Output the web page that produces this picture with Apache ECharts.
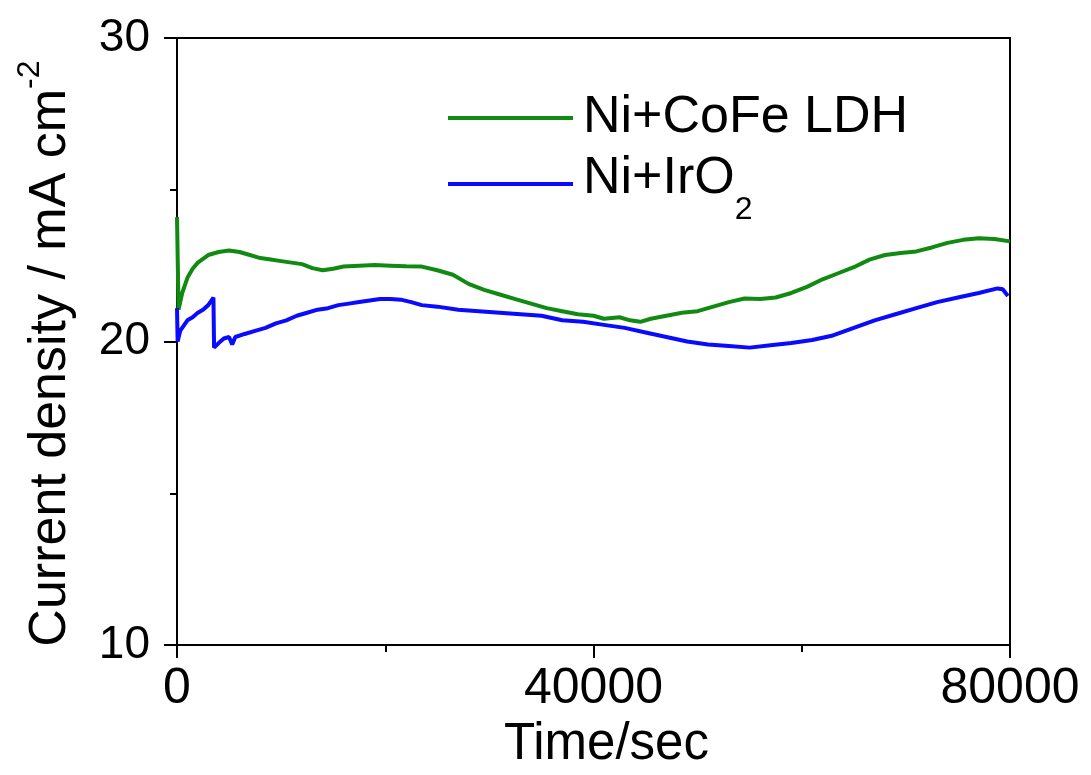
<!DOCTYPE html>
<html>
<head>
<meta charset="utf-8">
<script src="https://cdn.jsdelivr.net/npm/echarts@6/dist/echarts.min.js"></script>
<style>
  html, body { margin: 0; padding: 0; background: #fff; }
  #chart { width: 1091px; height: 775px; }
</style>
</head>
<body>
<div id="chart"></div>
<script>
// Chronoamperometry: current density vs time for two anodes
const ldhTime = [0, 150, 500, 1000, 1500, 2000, 3000, 4000, 5000, 6000, 7000, 8000, 9000, 10000,
  11000, 12000, 13000, 14000, 15000, 16000, 17500, 19000, 20500, 22000, 23500, 25000, 26500,
  28000, 29500, 31000, 32500, 34000, 35500, 37000, 38500, 40000, 41000, 42500, 43500, 44500,
  45500, 47000, 48500, 50000, 51500, 53000, 54500, 56000, 57500, 59000, 60500, 62000, 63500,
  65000, 66500, 68000, 69500, 71000, 72500, 74000, 75500, 77000, 78500, 80000];
const ldhCurrent = [24.1, 21.05, 21.6, 22.1, 22.4, 22.6, 22.85, 22.95, 23.0, 22.95, 22.85, 22.75,
  22.7, 22.65, 22.6, 22.55, 22.42, 22.35, 22.4, 22.47, 22.5, 22.52, 22.5, 22.48, 22.47, 22.35,
  22.2, 21.9, 21.7, 21.55, 21.4, 21.25, 21.1, 21.0, 20.9, 20.85, 20.75, 20.8, 20.7, 20.65,
  20.75, 20.85, 20.95, 21.0, 21.15, 21.3, 21.42, 21.4, 21.45, 21.6, 21.8, 22.05, 22.25,
  22.45, 22.7, 22.85, 22.92, 22.97, 23.1, 23.25, 23.35, 23.4, 23.38, 23.3];

const iroTime = [0, 60, 300, 1000, 1500, 2000, 2500, 3000, 3500, 3560, 4000, 4500, 5000, 5300,
  5600, 6500, 7500, 8500, 9500, 10500, 11500, 12500, 13500, 14500, 15500, 16500, 17500, 18500,
  19500, 20500, 21500, 22500, 23500, 25000, 27000, 29000, 31000, 33000, 35000, 37000, 39000,
  41000, 43000, 45000, 47000, 49000, 51000, 53000, 55000, 57000, 59000, 61000, 63000, 65000,
  67000, 69000, 71000, 73000, 75000, 77000, 78800, 79300, 79800];
const iroCurrent = [21.1, 20.0, 20.35, 20.7, 20.8, 20.95, 21.05, 21.2, 21.45, 19.8, 19.95, 20.1,
  20.15, 19.9, 20.15, 20.25, 20.35, 20.45, 20.6, 20.7, 20.85, 20.95, 21.05, 21.1, 21.2, 21.25,
  21.3, 21.35, 21.4, 21.4, 21.38, 21.3, 21.2, 21.15, 21.05, 21.0, 20.95, 20.9, 20.85, 20.7,
  20.65, 20.55, 20.45, 20.3, 20.15, 20.0, 19.9, 19.85, 19.8, 19.88, 19.95, 20.05, 20.2, 20.45,
  20.7, 20.9, 21.1, 21.3, 21.45, 21.6, 21.75, 21.72, 21.5];

const seriesNames = ['Ni+CoFe LDH', 'Ni+IrO2'];
const xTicks = [0, 40000, 80000];
const yTicks = [10, 20, 30];

const FONT = '"Liberation Sans", Arial, Helvetica, sans-serif';

function pairs(xs, ys) {
  return xs.map((x, i) => [x, ys[i]]);
}

// shared look of a one-entry legend box
function legendBox(name, top) {
  return {
    orient: 'vertical',
    left: 448,
    top: top,
    padding: 0,
    itemWidth: 125,
    itemHeight: 4,
    icon: 'rect',
    data: [name],
    formatter: function (n) {
      return n === 'Ni+IrO2' ? '{m|Ni+IrO}{sub|2}' : '{n|' + n + '}';
    },
    textStyle: {
      fontFamily: FONT,
      fontSize: 52,
      color: '#000',
      rich: {
        n: { fontFamily: FONT, fontSize: 52, lineHeight: 52, color: '#000', padding: [0, 0, 0, 5] },
        m: { fontFamily: FONT, fontSize: 52, lineHeight: 52, color: '#000', padding: [0, 0, 11, 5] },
        sub: { fontFamily: FONT, fontSize: 32, lineHeight: 32, color: '#000', padding: [52, 0, 0, 0] }
      }
    }
  };
}

const chart = echarts.init(document.getElementById('chart'), null, { renderer: 'canvas' });

chart.setOption({
  backgroundColor: '#ffffff',
  animation: false,
  grid: {
    left: 177, right: 81, top: 38, bottom: 128,
    show: true, borderColor: '#000', borderWidth: 2, backgroundColor: 'transparent'
  },
  legend: [legendBox(seriesNames[0], 92), legendBox(seriesNames[1], 142)],
  xAxis: {
    type: 'value',
    min: xTicks[0],
    max: xTicks[xTicks.length - 1],
    interval: xTicks[1] - xTicks[0],
    name: 'Time/sec',
    nameLocation: 'middle',
    nameGap: 72,
    nameTextStyle: { fontFamily: FONT, fontSize: 51, lineHeight: 51, color: '#000', padding: [0, 0, 0, 26] },
    axisLine: { show: true, onZero: false, lineStyle: { color: '#000', width: 2 } },
    axisTick: { show: true, inside: false, length: 13, lineStyle: { color: '#000', width: 2 } },
    minorTick: { show: true, splitNumber: 2, length: 7, lineStyle: { color: '#000', width: 2 } },
    axisLabel: {
      fontFamily: FONT, fontSize: 50, lineHeight: 50, color: '#000', margin: 19,
      formatter: function (v) { return String(v); }
    },
    splitLine: { show: false }
  },
  yAxis: {
    type: 'value',
    min: yTicks[0],
    max: yTicks[yTicks.length - 1],
    interval: yTicks[1] - yTicks[0],
    name: '{m|Current density / mA cm}{sup|-2}',
    nameLocation: 'middle',
    nameRotate: 90,
    nameGap: 93,
    nameTextStyle: {
      fontFamily: FONT, fontSize: 52, color: '#000',
      rich: {
        m: { fontFamily: FONT, fontSize: 52, lineHeight: 52, color: '#000' },
        sup: { fontFamily: FONT, fontSize: 32, lineHeight: 32, color: '#000', padding: [0, 24, 42, 0] }
      }
    },
    axisLine: { show: true, onZero: false, lineStyle: { color: '#000', width: 2 } },
    axisTick: { show: true, inside: false, length: 13, lineStyle: { color: '#000', width: 2 } },
    minorTick: { show: true, splitNumber: 2, length: 7, lineStyle: { color: '#000', width: 2 } },
    axisLabel: {
      fontFamily: FONT, fontSize: 46, color: '#000', margin: 27,
      formatter: function (v) { return String(v); }
    },
    splitLine: { show: false }
  },
  series: [
    {
      name: seriesNames[0],
      type: 'line',
      data: pairs(ldhTime, ldhCurrent),
      showSymbol: false,
      symbol: 'none',
      color: '#118a11',
      lineStyle: { color: '#118a11', width: 4 },
      z: 3
    },
    {
      name: seriesNames[1],
      type: 'line',
      data: pairs(iroTime, iroCurrent),
      showSymbol: false,
      symbol: 'none',
      color: '#0a0aff',
      lineStyle: { color: '#0a0aff', width: 4 },
      z: 4
    }
  ]
});
</script>
</body>
</html>
